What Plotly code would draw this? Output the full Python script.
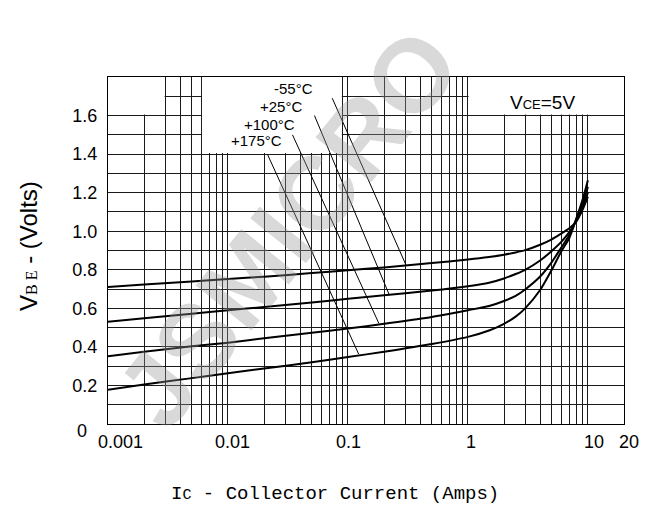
import math
import plotly.graph_objects as go

# ---------------- data ----------------
current_a = [0.001, 0.002, 0.005, 0.01, 0.02, 0.05, 0.1, 0.2, 0.5, 1, 1.5, 2, 2.5, 3, 4, 5, 6, 7, 8, 9, 10]
vbe_m55 = [0.711, 0.723, 0.739, 0.752, 0.764, 0.783, 0.798, 0.812, 0.835, 0.853, 0.866, 0.878, 0.890, 0.902, 0.930, 0.958, 0.988, 1.015, 1.050, 1.110, 1.180]
vbe_p25 = [0.530, 0.548, 0.572, 0.590, 0.607, 0.630, 0.650, 0.668, 0.692, 0.715, 0.733, 0.755, 0.778, 0.800, 0.848, 0.898, 0.945, 0.995, 1.055, 1.125, 1.200]
vbe_p100 = [0.352, 0.375, 0.403, 0.422, 0.445, 0.473, 0.495, 0.520, 0.555, 0.590, 0.612, 0.638, 0.665, 0.698, 0.765, 0.840, 0.915, 0.980, 1.060, 1.140, 1.230]
vbe_p175 = [0.178, 0.205, 0.238, 0.263, 0.288, 0.320, 0.347, 0.375, 0.415, 0.452, 0.485, 0.520, 0.557, 0.600, 0.695, 0.800, 0.895, 0.965, 1.065, 1.160, 1.265]

series_names = ["-55°C", "+25°C", "+100°C", "+175°C"]
series_values = [vbe_m55, vbe_p25, vbe_p100, vbe_p175]

# label anchor (data coords) and leader lines (start -> end on curve)
label_x = [0.0355, 0.0279, 0.0220, 0.0173]
label_y = [1.738, 1.647, 1.555, 1.469]
leader_x0 = [0.074, 0.0526, 0.0345, 0.0213]
leader_y0 = [1.69, 1.60, 1.50, 1.40]
leader_x1 = [0.304, 0.221, 0.181, 0.123]
leader_y1 = [0.826, 0.670, 0.522, 0.362]

x_tick_vals = [0.001, 0.01, 0.1, 1, 10, 20]
x_tick_text = ["0.001", "0.01", "0.1", "1", "10", "20"]
x_tick_shift = [12, 5, 1, 3, 6, 5]
y_tick_vals = [0.2, 0.4, 0.6, 0.8, 1.0, 1.2, 1.4, 1.6]
y_tick_text = ["0.2", "0.4", "0.6", "0.8", "1.0", "1.2", "1.4", "1.6"]

X_MIN, X_MAX = 0.001, 20
Y_MIN, Y_MAX = 0.0, 1.8

# grid positions
x_grid = [m * 10 ** e for e in range(-3, 1 + 1) for m in range(1, 10) if m * 10 ** e <= 10 + 1e-9]
y_grid = [round(0.1 * k, 1) for k in range(1, 18)]

GRID = "#1a1a1a"
FONT = "Liberation Sans, Arial, sans-serif"

fig = go.Figure()

# curves
for name, vals in zip(series_names, series_values):
    fig.add_trace(go.Scatter(x=current_a, y=vals, mode="lines", name=name,
                             line=dict(color="black", width=2, shape="spline", smoothing=0.7),
                             showlegend=False, hoverinfo="skip"))

# white blank regions where the grid is interrupted (label areas)
blank_boxes = [
    (0.001, 0.003 / 1.012, 1.6 + 0.006, 1.8),
    (0.006 * 1.012, 0.09 / 1.012, 1.4 + 0.006, 1.8),
    (1.0 * 1.012, 20, 1.6 + 0.006, 1.8),
]
for (bx0, bx1, by0, by1) in blank_boxes:
    fig.add_trace(go.Scatter(x=[bx0, bx1, bx1, bx0, bx0], y=[by0, by0, by1, by1, by0],
                             mode="lines", fill="toself", fillcolor="white",
                             line=dict(width=0, color="white"), showlegend=False, hoverinfo="skip"))

# leader lines
for x0, y0, x1, y1 in zip(leader_x0, leader_y0, leader_x1, leader_y1):
    fig.add_trace(go.Scatter(x=[x0, x1], y=[y0, y1], mode="lines",
                             line=dict(color="black", width=1), showlegend=False, hoverinfo="skip"))

annotations = []
# temperature labels
for t, lx, ly in zip(series_names, label_x, label_y):
    annotations.append(dict(x=math.log10(lx), y=ly, xref="x", yref="y", text=t, showarrow=False,
                            font=dict(family=FONT, size=15, color="black"), xanchor="center", yanchor="middle"))

# x tick labels
for v, t, s in zip(x_tick_vals, x_tick_text, x_tick_shift):
    annotations.append(dict(x=math.log10(v), y=0, xref="x", yref="y", text=t, showarrow=False,
                            xshift=s, yshift=-18, font=dict(family=FONT, size=18, color="black"),
                            xanchor="center", yanchor="middle"))
# "0" y label
annotations.append(dict(x=-0.0495, y=-0.02, xref="paper", yref="paper", text="0", showarrow=False,
                        font=dict(family=FONT, size=18, color="black"), xanchor="center", yanchor="middle"))

# VCE=5V
annotations.append(dict(x=(542 - 108) / 516, y=(424 - 102.5) / 347, xref="paper", yref="paper",
                        text="V<span style='font-size:13px'>CE</span>=5V", showarrow=False,
                        font=dict(family=FONT, size=19, color="black"), xanchor="center", yanchor="middle"))

# axis titles
annotations.append(dict(x=(28 - 108) / 516, y=(424 - 246) / 347, xref="paper", yref="paper",
                        text="V<span style='font-family:Liberation Serif, serif;font-size:16px'>B E</span> - (Volts)",
                        textangle=-90, showarrow=False,
                        font=dict(family=FONT, size=24, color="black"), xanchor="center", yanchor="middle"))
annotations.append(dict(x=(335 - 108) / 516, y=(424 - 494) / 347, xref="paper", yref="paper",
                        text="I<span style='font-size:15px'>C</span> - Collector Current (Amps)",
                        showarrow=False,
                        font=dict(family="Liberation Mono, Courier New, monospace", size=19, color="black"),
                        xanchor="center", yanchor="middle"))

# watermark
annotations.append(dict(x=(288 - 108) / 516, y=(424 - 228) / 347, xref="paper", yref="paper",
                        text="<b>JSMICRO</b>", textangle=-51, showarrow=False,
                        font=dict(family=FONT, size=104, color="rgba(150,150,150,0.36)"),
                        xanchor="center", yanchor="middle"))

fig.update_layout(
    width=645, height=506,
    margin=dict(l=108, r=21, t=77, b=82),
    paper_bgcolor="white", plot_bgcolor="white",
    showlegend=False,
    annotations=annotations,
    xaxis=dict(type="log", range=[math.log10(X_MIN), math.log10(X_MAX)],
               tickvals=x_grid, showticklabels=False, ticks="",
               showgrid=True, gridcolor=GRID, gridwidth=1,
               showline=True, linecolor="black", linewidth=1, mirror=True, zeroline=False),
    yaxis=dict(range=[Y_MIN, Y_MAX], tickvals=y_grid,
               ticktext=[f"{v:.1f}" if any(abs(v - t) < 1e-9 for t in y_tick_vals) else "" for v in y_grid],
               ticks="", ticklabelstandoff=6,
               tickfont=dict(family=FONT, size=18, color="black"),
               showgrid=True, gridcolor=GRID, gridwidth=1,
               showline=True, linecolor="black", linewidth=1, mirror=True, zeroline=False),
)

fig.write_html("out.html", config={"displayModeBar": False},
               post_script="document.body.style.margin='0';document.body.style.padding='0';")
